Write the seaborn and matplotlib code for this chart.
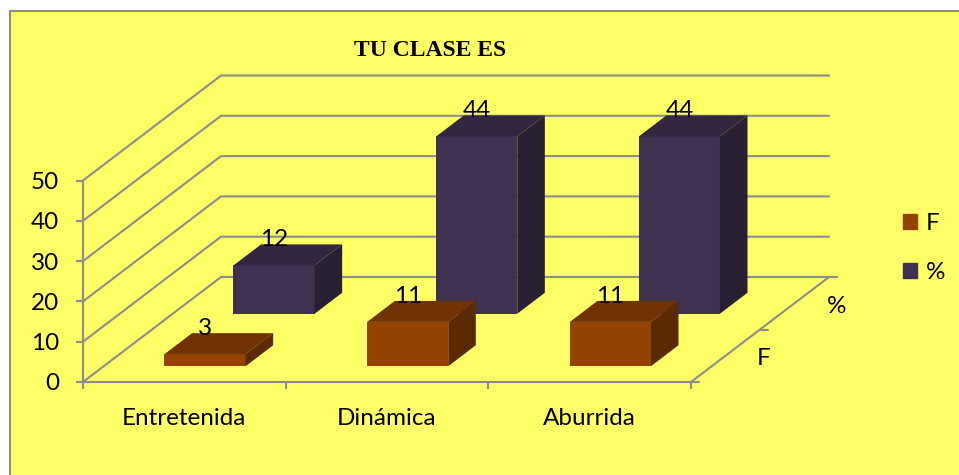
import matplotlib.pyplot as plt
import seaborn as sns
from matplotlib.patches import Patch, Polygon, Rectangle

categories = ["Entretenida", "Dinámica", "Aburrida"]
series_names = ["F", "%"]
f_values = [3, 11, 11]
pct_values = [12, 44, 44]
value_ticks = [0, 10, 20, 30, 40, 50]

W, H = 959, 475
PLOT_L, PLOT_R, PLOT_B, PLOT_T = 83, 691, 382, 180.5
DEPTH_DX, DEPTH_DY = 138, 105  # pixels from front to back of the floor
GRID = "#8c8c8c"
BG = "#ffff66"
# front, top, side of each box
F_COLORS = ("#954302", "#713304", "#5b2a02")
PCT_COLORS = ("#403151", "#342640", "#281f33")
BAR_WIDTH = 0.4
BAR_DEPTH = 0.2

sns.set_theme(style="white")
plt.rcParams["font.family"] = ["Lato", "DejaVu Sans"]
FONT = 17.5

cat_px = (PLOT_R - PLOT_L) / len(categories)
val_px = (PLOT_B - PLOT_T) / value_ticks[-1]
shift_x = DEPTH_DX / cat_px
shift_z = DEPTH_DY / val_px


def plane_axes(fig, d):
    """Transparent axes lying in the vertical plane at depth d (0 front, 1 back)."""
    left = PLOT_L + d * DEPTH_DX
    bottom = PLOT_B - d * DEPTH_DY
    ax = fig.add_axes(
        [left / W, (H - bottom) / H, (PLOT_R - PLOT_L) / W, (PLOT_B - PLOT_T) / H]
    )
    ax.patch.set_alpha(0)
    return ax


def draw_boxes(fig, values, d, colors):
    ax = plane_axes(fig, d)
    sns.barplot(
        x=categories, y=values, order=categories, color=colors[0],
        saturation=1, width=BAR_WIDTH, linewidth=0, edgecolor=colors[0], ax=ax,
    )
    ax.set_xlim(-0.5, len(categories) - 0.5)
    ax.set_ylim(0, value_ticks[-1])
    ax.axis("off")
    dx, dz = BAR_DEPTH * shift_x, BAR_DEPTH * shift_z
    for i, v in enumerate(values):
        x0, x1 = i - BAR_WIDTH / 2, i + BAR_WIDTH / 2
        top = [(x0, v), (x1, v), (x1 + dx, v + dz), (x0 + dx, v + dz)]
        side = [(x1, 0), (x1 + dx, dz), (x1 + dx, v + dz), (x1, v)]
        ax.add_patch(Polygon(top, color=colors[1], lw=0, clip_on=False))
        ax.add_patch(Polygon(side, color=colors[2], lw=0, clip_on=False))
        ax.text(i, v + dz + 1.2, str(v), ha="center", va="center", fontsize=FONT,
                color="black", clip_on=False, zorder=5)


fig = plt.figure(figsize=(W / 100, H / 100), dpi=100, facecolor="white")
fig.add_artist(Rectangle((10 / W, -0.05), 1.05, (H - 11) / H + 0.05,
                         transform=fig.transFigure, facecolor=BG,
                         edgecolor=GRID, lw=1.5, zorder=-1))

# front plane carries the real axes
base = plane_axes(fig, 0)
base.set_xlim(-0.5, len(categories) - 0.5)
base.set_ylim(0, value_ticks[-1])
sns.despine(ax=base)
for side in ("left", "bottom"):
    base.spines[side].set_color(GRID)
    base.spines[side].set_linewidth(1.5)
base.set_yticks(value_ticks)
base.set_xticks([i - 0.5 for i in range(len(categories) + 1)])
base.set_xticklabels([])
base.set_xticks(range(len(categories)), labels=categories, minor=True)
base.tick_params(axis="both", which="major", length=5, width=1.5, color=GRID,
                 left=True, bottom=True, labelsize=FONT, labelcolor="black", pad=12)
base.tick_params(axis="x", which="minor", length=0, labelsize=FONT, labelcolor="black", pad=18.5)

x_left, x_right = -0.5, len(categories) - 0.5
for v in value_ticks:
    base.plot([x_left, x_left + shift_x, x_right + shift_x],
              [v, v + shift_z, v + shift_z], color=GRID, lw=1.5, clip_on=False,
              solid_joinstyle="miter")
base.plot([x_right, x_right + shift_x], [0, shift_z], color=GRID, lw=1.5, clip_on=False)

# depth axis ticks and labels
for d in (0, 0.5, 1):
    base.plot([x_right + d * shift_x, x_right + d * shift_x + 8 / cat_px],
              [d * shift_z, d * shift_z], color=GRID, lw=1.5, clip_on=False)
for name, d, off in zip(series_names, (0.25, 0.75), (27.5, 30)):
    base.annotate(name, (x_right + d * shift_x, d * shift_z), xytext=(off, -2),
                  textcoords="offset points", ha="center", va="center", fontsize=FONT,
                  color="black", annotation_clip=False)

draw_boxes(fig, pct_values, 0.65, PCT_COLORS)
draw_boxes(fig, f_values, 0.15, F_COLORS)

fig.text(430 / W, (H - 50) / H, "TU CLASE ES", ha="center", va="center",
         fontfamily="Liberation Serif", fontweight="bold", fontsize=17, color="black")

handles = [Patch(color=F_COLORS[0], label=series_names[0]),
           Patch(color=PCT_COLORS[0], label=series_names[1])]
fig.legend(handles=handles, loc="center left", bbox_to_anchor=(881 / W, (H - 248) / H),
           frameon=False, fontsize=FONT, handlelength=0.6, handleheight=0.6,
           labelspacing=1.14, handletextpad=0.35, labelcolor="black")

fig.savefig("out.png", dpi=100)
